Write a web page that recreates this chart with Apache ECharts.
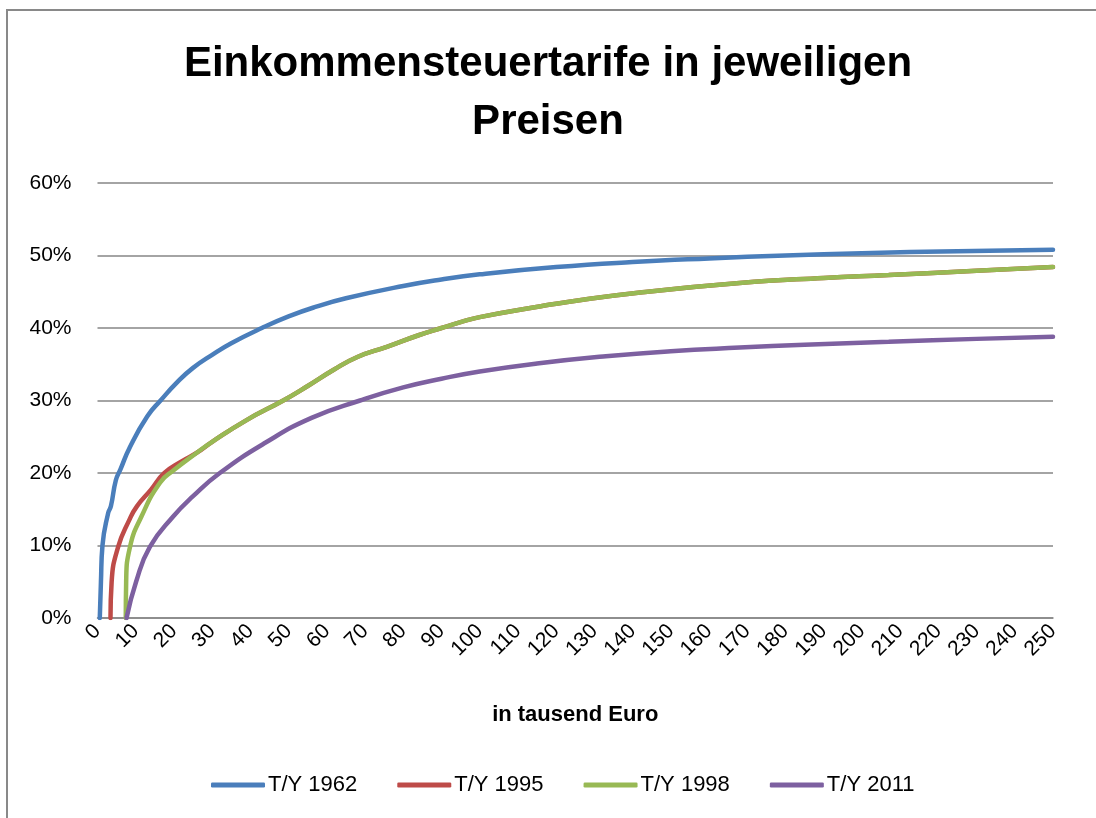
<!DOCTYPE html>
<html>
<head>
<meta charset="utf-8">
<script src="https://cdn.jsdelivr.net/npm/echarts@6/dist/echarts.min.js"></script>
<style>
  html, body { margin: 0; padding: 0; background: #fff; }
  #chart { width: 1096px; height: 818px; }
</style>
</head>
<body>
<div id="chart"></div>
<script>
// Einkommen in tausend Euro, Durchschnittssteuersatz in %
var income1962 = [0.6, 0.9, 1.3, 2.8, 3.5, 4.8, 6, 8.5, 13, 16.5, 21, 25, 30, 35, 43, 50, 57, 65, 80, 90, 100, 120, 140, 160, 180, 200, 225, 250];
var rate1962   = [0, 5, 10, 14.5, 15.4, 19, 20.5, 23.6, 27.8, 30, 32.6, 34.5, 36.3, 37.9, 40, 41.6, 42.9, 44.1, 45.8, 46.7, 47.4, 48.4, 49.1, 49.6, 50, 50.3, 50.6, 50.8];

var income1995 = [3.4, 3.7, 5.4, 8.3, 10.3, 14, 17.5, 22, 26, 30, 39, 48.6, 55, 61.7, 68, 75.7, 84, 90, 95, 100, 116, 123, 142, 168, 190, 207, 230, 250];
var rate1995   = [0, 5, 9.8, 13.5, 15.4, 17.7, 20, 21.6, 22.8, 24.3, 27.3, 30, 32, 34.2, 36, 37.4, 39, 40, 40.8, 41.5, 43, 43.6, 44.9, 46.2, 46.9, 47.3, 47.9, 48.4];

var income1998 = [7.4, 7.5, 8.5, 11.5, 16.4, 20, 26, 30, 39, 48.6, 55, 61.7, 68, 75.7, 84, 90, 95, 100, 116, 123, 142, 168, 190, 207, 230, 250];
var rate1998   = [0, 5, 9.8, 14, 18.7, 20.4, 22.8, 24.3, 27.3, 30, 32, 34.2, 36, 37.4, 39, 40, 40.8, 41.5, 43, 43.6, 44.9, 46.2, 46.9, 47.3, 47.9, 48.4];

var income2011 = [7.6, 10.1, 13.7, 19.8, 25, 32, 44, 56, 68.7, 80, 90, 100, 115, 133, 150, 168, 185, 207, 230, 250];
var rate2011   = [0, 5, 9.8, 14, 16.8, 20, 24.2, 27.6, 30, 31.8, 33, 34, 35.1, 36.1, 36.8, 37.3, 37.7, 38.1, 38.5, 38.8];

var seriesNames = ['T/Y 1962', 'T/Y 1995', 'T/Y 1998', 'T/Y 2011'];
var colors = ['#4A7EBB', '#BE4B48', '#98B954', '#7D60A0'];

function pairs(xs, ys) {
  var out = [];
  for (var i = 0; i < xs.length; i++) out.push([xs[i], ys[i]]);
  return out;
}

var allData = [
  pairs(income1962, rate1962),
  pairs(income1995, rate1995),
  pairs(income1998, rate1998),
  pairs(income2011, rate2011)
];

var font = 'Liberation Sans';

var myChart = echarts.init(document.getElementById('chart'));
myChart.setOption({
  animation: false,
  color: colors,
  graphic: [{
    type: 'rect',
    shape: { x: 7, y: 10, width: 1200, height: 1000 },
    style: { fill: 'none', stroke: '#898989', lineWidth: 2 },
    z: -10
  }],
  title: {
    text: 'Einkommensteuertarife in jeweiligen\nPreisen',
    left: 'center',
    top: 30,
    textStyle: { fontFamily: font, fontSize: 42, fontWeight: 'bold', color: '#000', lineHeight: 58 }
  },
  legend: {
    data: seriesNames,
    bottom: 17,
    left: 206,
    itemWidth: 54,
    itemHeight: 5,
    itemGap: 40,
    icon: 'roundRect',
    textStyle: { fontFamily: font, fontSize: 22, color: '#000', padding: [0, 0, 0, -2] }
  },
  grid: { left: 97.5, right: 43, top: 183, bottom: 200 },
  xAxis: {
    type: 'value',
    min: 0,
    max: 250,
    interval: 10,
    name: 'in tausend Euro',
    nameLocation: 'middle',
    nameGap: 86,
    nameTextStyle: { fontFamily: font, fontSize: 22, fontWeight: 'bold', color: '#000' },
    axisLine: { show: true, lineStyle: { color: '#868686', width: 1.5 } },
    axisTick: { show: false },
    splitLine: { show: false },
    axisLabel: { rotate: 45, margin: 10, fontFamily: font, fontSize: 21, color: '#000' }
  },
  yAxis: {
    type: 'value',
    min: 0,
    max: 60,
    interval: 10,
    axisLine: { show: false },
    axisTick: { show: false },
    splitLine: { lineStyle: { color: '#868686', width: 1.5 } },
    axisLabel: { formatter: '{value}%', margin: 26, fontFamily: font, fontSize: 21, color: '#000' }
  },
  series: allData.map(function (d, i) {
    return {
      name: seriesNames[i],
      type: 'line',
      data: d,
      symbol: 'none',
      smooth: 0.5,
      lineStyle: { width: 4.5, color: colors[i], cap: 'round' },
      itemStyle: { color: colors[i] }
    };
  })
});
</script>
</body>
</html>
